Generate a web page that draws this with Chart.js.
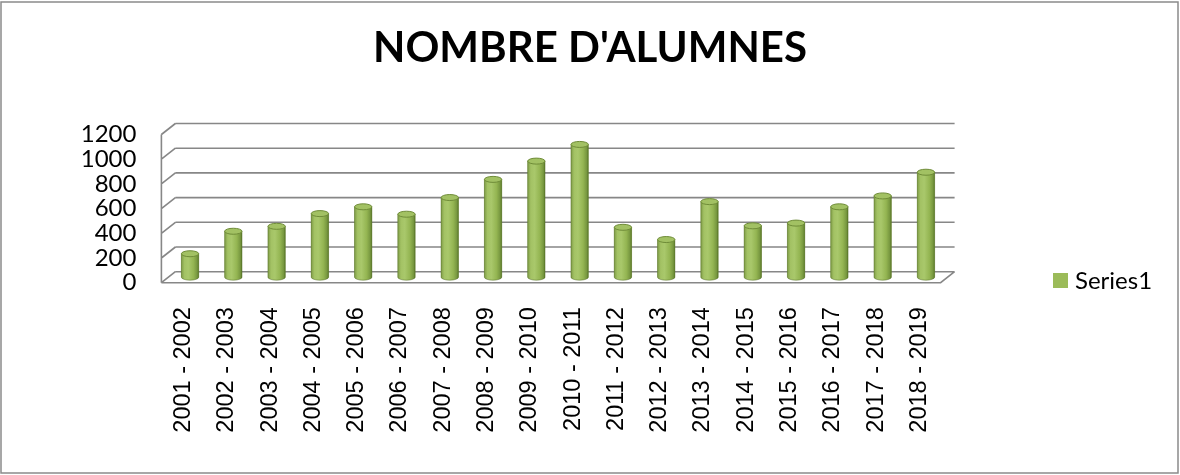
<!DOCTYPE html>
<html>
<head>
<meta charset="utf-8">
<script src="https://cdn.jsdelivr.net/npm/chart.js@4.4.1/dist/chart.umd.min.js"></script>
<style>
  body { margin: 0; background: #fff; }
  #wrap { width: 1180px; height: 475px; }
</style>
</head>
<body>
<div id="wrap"><canvas id="chart" width="1180" height="475"></canvas></div>
<script>
// Données
const categories = [
  "2001 - 2002", "2002 - 2003", "2003 - 2004", "2004 - 2005", "2005 - 2006",
  "2006 - 2007", "2007 - 2008", "2008 - 2009", "2009 - 2010", "2010 - 2011",
  "2011 - 2012", "2012 - 2013", "2013 - 2014", "2014 - 2015", "2015 - 2016",
  "2016 - 2017", "2017 - 2018", "2018 - 2019"
];
const eleves = [190, 372, 412, 515, 570, 510, 645, 792, 940, 1075, 404, 305, 612, 416, 438, 570, 658, 850];
const seriesName = "Series1";
const yTicks = { min: 0, max: 1200, step: 200 };

const GREEN = "#9bbb59";
const GRID = "#878787";
const DX = 7, DY = 5.5; // décalage de profondeur (effet 3D)

// Murs, grille, cylindres et légende
const wallsPlugin = {
  id: "walls",
  beforeDraw(chart) {
    const c = chart.ctx;
    c.save();
    c.fillStyle = "#fff";
    c.fillRect(0, 0, chart.width, chart.height);
    c.strokeStyle = "#8a8a8a";
    c.lineWidth = 1.5;
    c.strokeRect(1, 2, chart.width - 3, chart.height - 4);
    c.restore();
  },
  beforeDatasetsDraw(chart) {
    const c = chart.ctx;
    const y = chart.scales.y;
    const { left, right } = chart.chartArea;
    const y0 = y.getPixelForValue(yTicks.min);
    const yTop = y.getPixelForValue(yTicks.max);
    c.save();
    c.strokeStyle = GRID;
    c.lineWidth = 1.6;
    c.beginPath();
    y.ticks.forEach(t => {
      const yb = y.getPixelForValue(t.value);
      c.moveTo(left + DX, yb - DY);
      c.lineTo(right + DX, yb - DY);
      c.moveTo(left - DX, yb + DY);
      c.lineTo(left + DX, yb - DY);
    });
    // arête avant gauche
    c.moveTo(left - DX, yTop + DY);
    c.lineTo(left - DX, y0 + DY);
    // sol
    c.moveTo(left - DX, y0 + DY);
    c.lineTo(right - DX, y0 + DY);
    c.lineTo(right + DX, y0 - DY);
    c.stroke();
    c.restore();
  },
  afterDatasetsDraw(chart) {
    const c = chart.ctx;
    const meta = chart.getDatasetMeta(0);
    c.save();
    meta.data.forEach(el => {
      const { x, y, base, width } = el.getProps(["x", "y", "base", "width"], true);
      const l = x - width / 2, r = x + width / 2, rx = width / 2, ry = 3;
      const g = c.createLinearGradient(l, 0, r, 0);
      g.addColorStop(0, "#7f9c47");
      g.addColorStop(0.18, "#a3c264");
      g.addColorStop(0.4, "#a9c86b");
      g.addColorStop(0.7, "#94b552");
      g.addColorStop(0.9, "#789840");
      g.addColorStop(1, "#5c7a2a");
      c.beginPath();
      c.moveTo(l, y);
      c.lineTo(l, base);
      c.ellipse(x, base, rx, ry, 0, Math.PI, 0, true);
      c.lineTo(r, y);
      c.closePath();
      c.fillStyle = g;
      c.fill();
      c.strokeStyle = "rgba(80,105,35,0.6)";
      c.lineWidth = 0.8;
      c.stroke();
      c.beginPath();
      c.ellipse(x, y, rx, ry, 0, 0, Math.PI * 2);
      c.fillStyle = "#a2c163";
      c.fill();
      c.strokeStyle = "#6f8c38";
      c.lineWidth = 1;
      c.stroke();
    });
    c.restore();
  },
  afterDraw(chart) {
    // légende
    const c = chart.ctx;
    c.save();
    c.fillStyle = GREEN;
    c.fillRect(1053, 273, 15, 15);
    c.fillStyle = "#000";
    c.font = "24px Lato";
    c.textBaseline = "middle";
    c.textAlign = "left";
    c.fillText(chart.data.datasets[0].label, 1075, 281);
    c.restore();
  }
};

new Chart(document.getElementById("chart"), {
  type: "bar",
  data: {
    labels: categories,
    datasets: [{
      label: seriesName,
      data: eleves,
      backgroundColor: GREEN,
      borderWidth: 0,
      categoryPercentage: 1,
      barPercentage: 0.4
    }]
  },
  options: {
    responsive: false,
    animation: false,
    layout: { padding: 0 },
    plugins: {
      legend: { display: false },
      tooltip: { enabled: false },
      title: {
        display: true,
        text: "NOMBRE D'ALUMNES",
        color: "#000",
        font: { family: "Lato", weight: "bold", size: 42, lineHeight: 1.2 },
        padding: { top: 23, bottom: 55.6 }
      }
    },
    scales: {
      x: {
        grid: { display: false, drawTicks: false },
        border: { display: false },
        ticks: {
          autoSkip: false,
          maxRotation: 90,
          minRotation: 90,
          padding: 30,
          labelOffset: -6.5,
          color: "#000",
          font: { family: "Liberation Sans", size: 23.5 }
        },
        afterFit(scale) { scale.height = 197.8; }
      },
      y: {
        min: yTicks.min,
        max: yTicks.max,
        grid: { display: false, drawTicks: false },
        border: { display: false },
        ticks: {
          stepSize: yTicks.step,
          autoSkip: false,
          padding: 32,
          labelOffset: 5.5,
          color: "#000",
          font: { family: "Lato", size: 24 },
          callback: v => String(v)
        },
        afterFit(scale) { scale.width = 168.4; }
      },
      // espace réservé à la légende, à droite
      legendSpace: {
        type: "linear",
        position: "right",
        grid: { display: false, drawTicks: false },
        border: { display: false },
        ticks: { display: false },
        afterFit(scale) { scale.width = 232.4; }
      }
    }
  },
  plugins: [wallsPlugin]
});
</script>
</body>
</html>
